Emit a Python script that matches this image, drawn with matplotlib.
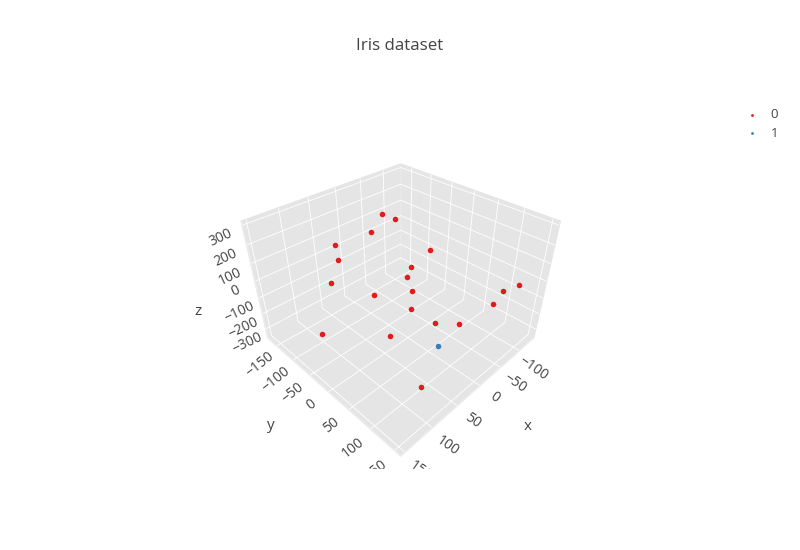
import matplotlib
matplotlib.use('Agg')
import matplotlib.pyplot as plt
from matplotlib.patches import Rectangle
from matplotlib.transforms import Affine2D

x0 = [-3, -1, 36, 72, 70, 80, 36, 96, 34, -20, -2, 2, -3, -3, -29, -56, -113, -98, -90, 79]
y0 = [-65, -33, -41, -82, -80, -91, -41, -110, -5, 24, 2, -2, 4, 4, 34, 64, 130, 113, 103, 115]
z0 = [286, 295, 267, 202, 122, -10, -81, -336, -288, 175, 82, 23, -55, -168, -261, -264, -20, -55, -137, -271]
x1 = [-1]
y1 = [70]
z1 = [-287]

x_ticks = [-100, -50, 0, 50, 100, 150]
y_ticks = [-150, -100, -50, 0, 50, 100, 150]
z_ticks = [-300, -200, -100, 0, 100, 200, 300]

plt.rcParams['font.family'] = 'Open Sans'
grey = '#444444'


# mplot3d resets text transforms when drawing, so nudge through get_transform (pixels)
def nudge(text, dx, dy):
    text.get_transform = lambda: ax.transData + Affine2D().translate(dx, dy)


fig = plt.figure(figsize=(8, 5.5), dpi=100)
ax = fig.add_axes([144 / 800, 8.5 / 550, 500 / 800, 500 / 550], projection='3d')
ax.patch.set_alpha(0)
ax.view_init(elev=35.26, azim=45)
ax.set_box_aspect((1, 1, 0.69), zoom=0.6268)
ax.set_proj_type('persp', focal_length=0.1664)

s0 = ax.scatter(x0, y0, z0, color='#e41a1c', s=16, linewidths=0, depthshade=False, label='0')
s1 = ax.scatter(x1, y1, z1, color='#377eb8', s=16, linewidths=0, depthshade=False, label='1')

ax.set_xlim(-141, 157)
ax.set_ylim(-180, 162)
ax.set_zlim(-360, 320)
ax.set_xticks(x_ticks)
ax.set_yticks(y_ticks)
ax.set_zticks(z_ticks)

for axis in (ax.xaxis, ax.yaxis, ax.zaxis):
    axis.set_pane_color('#e5e5e5')
    axis.pane.set_edgecolor('#e5e5e5')
    axis.line.set_color('#eeeeee')
    axis._axinfo['grid'].update(color='white', linewidth=0.6)
    axis._axinfo['tick'].update(inward_factor=0, outward_factor=0)
    axis.set_rotate_label(False)

ax.tick_params(axis='x', labelrotation=-35, labelsize=10, labelcolor=grey, pad=2)
ax.tick_params(axis='y', labelrotation=38, labelsize=10, labelcolor=grey, pad=2)
ax.tick_params(axis='z', labelrotation=25, labelsize=10, labelcolor=grey, pad=6)
ax.set_xlabel('x', fontsize=11, color=grey, labelpad=20)
ax.set_ylabel('y', fontsize=11, color=grey, labelpad=20)
ax.set_zlabel('z', fontsize=11, color=grey, labelpad=12)

for tick in ax.xaxis.get_major_ticks():
    nudge(tick.label1, 6.5, 8)
for tick in ax.yaxis.get_major_ticks():
    nudge(tick.label1, -9, 7)
for tick in ax.zaxis.get_major_ticks():
    nudge(tick.label1, 2, -1)
nudge(ax.xaxis.label, 16, 10)
nudge(ax.yaxis.label, -19, 11)
nudge(ax.zaxis.label, -7, -27)

fig.text(0.5, 1 - 45.5 / 550, 'Iris dataset', ha='center', va='center', fontsize=12.2, color=grey)
fig.legend(handles=[s0, s1], loc='upper left', bbox_to_anchor=(744 / 800, 1 - 108.5 / 550), frameon=False,
           fontsize=9.5, labelcolor=grey, markerscale=0.5, labelspacing=0.4, handlelength=1.2,
           handletextpad=0.8, borderpad=0, borderaxespad=0)
fig.add_artist(Rectangle((0, 0), 1, 81 / 550, transform=fig.transFigure, color='white', zorder=5))

fig.savefig('out.png', dpi=100)
